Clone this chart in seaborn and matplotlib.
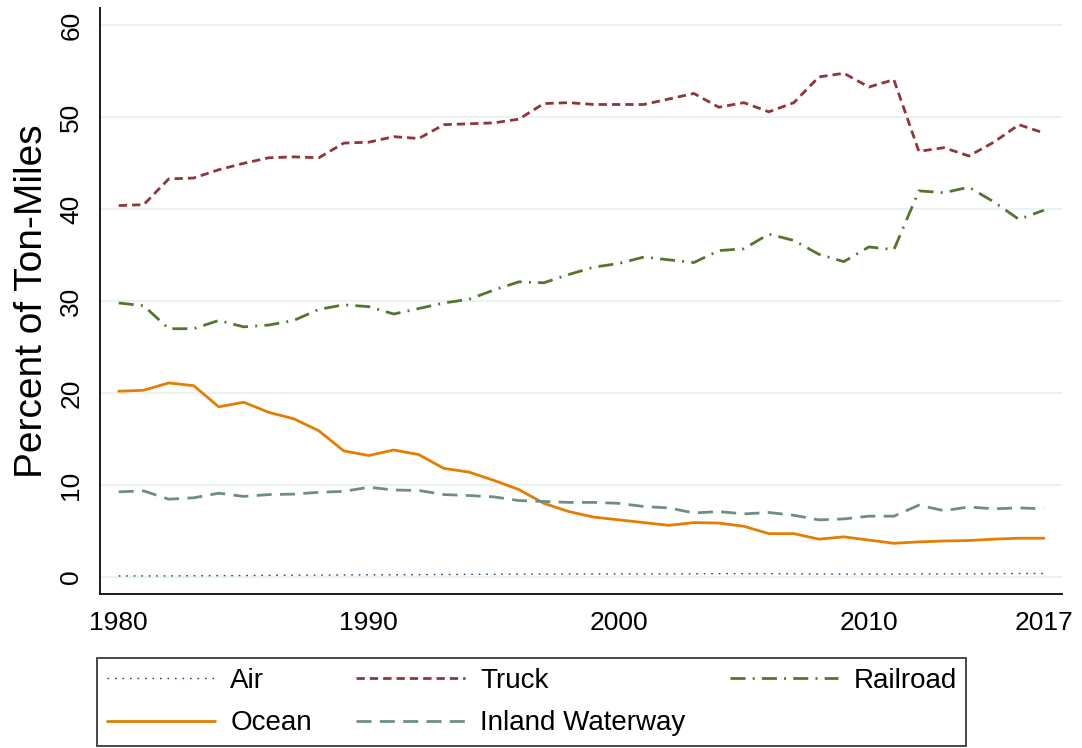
import numpy as np
import pandas as pd
import matplotlib
matplotlib.use('Agg')
import matplotlib.pyplot as plt
import seaborn as sns

years = list(range(1980, 2018))

air = [0.10, 0.10, 0.10, 0.12, 0.13, 0.14, 0.16, 0.18, 0.19, 0.20,
       0.22, 0.22, 0.24, 0.25, 0.27, 0.28, 0.29, 0.30, 0.30, 0.31,
       0.32, 0.31, 0.32, 0.33, 0.35, 0.34, 0.34, 0.33, 0.30, 0.29,
       0.30, 0.29, 0.31, 0.32, 0.33, 0.34, 0.36, 0.37]
truck = [40.4, 40.5, 43.3, 43.4, 44.3, 45.0, 45.6, 45.7, 45.6, 47.2,
         47.3, 47.9, 47.7, 49.2, 49.3, 49.4, 49.8, 51.5, 51.6, 51.4,
         51.4, 51.4, 52.0, 52.6, 51.1, 51.6, 50.6, 51.6, 54.4, 54.8,
         53.3, 54.1, 46.3, 46.7, 45.8, 47.3, 49.2, 48.3]
railroad = [29.8, 29.5, 27.0, 27.0, 27.9, 27.2, 27.4, 27.9, 29.1, 29.6,
            29.4, 28.6, 29.2, 29.8, 30.2, 31.2, 32.1, 32.0, 32.9, 33.7,
            34.1, 34.8, 34.5, 34.2, 35.5, 35.7, 37.3, 36.6, 35.1, 34.3,
            35.9, 35.6, 42.0, 41.8, 42.4, 40.8, 38.9, 39.9]
ocean = [20.2, 20.3, 21.1, 20.8, 18.5, 19.0, 17.9, 17.2, 15.9, 13.7,
         13.2, 13.8, 13.3, 11.8, 11.4, 10.5, 9.5, 8.0, 7.1, 6.5,
         6.2, 5.9, 5.6, 5.9, 5.85, 5.5, 4.7, 4.7, 4.1, 4.35,
         4.0, 3.65, 3.8, 3.9, 3.95, 4.1, 4.2, 4.2]
inland = [9.25, 9.35, 8.45, 8.6, 9.1, 8.75, 8.95, 9.0, 9.2, 9.3,
          9.75, 9.45, 9.4, 8.95, 8.85, 8.7, 8.3, 8.2, 8.1, 8.1,
          8.0, 7.65, 7.5, 6.95, 7.1, 6.85, 7.0, 6.7, 6.2, 6.3,
          6.6, 6.6, 7.8, 7.2, 7.6, 7.4, 7.5, 7.4]

modes = ['Air', 'Truck', 'Railroad', 'Ocean', 'Inland Waterway']
series = [air, truck, railroad, ocean, inland]

df = pd.DataFrame({
    'year': years * len(modes),
    'share': np.concatenate(series),
    'mode': np.repeat(modes, len(years)),
})

colors = {'Air': '#1a476f', 'Truck': '#90353b', 'Railroad': '#55752f',
          'Ocean': '#e37e00', 'Inland Waterway': '#6e8e84'}
styles = {'Air': (0, (1.2, 4.2)), 'Truck': (0, (3.0, 1.8)),
          'Railroad': (0, (5.4, 2.6, 0.7, 2.6)), 'Ocean': '-',
          'Inland Waterway': (0, (5.4, 3.0))}
widths = {'Air': 1.0, 'Truck': 2.0, 'Railroad': 2.0, 'Ocean': 2.0,
          'Inland Waterway': 2.0}

sns.set_style('white')
plt.rcParams['font.family'] = ['Liberation Sans', 'DejaVu Sans']
plt.rcParams['text.color'] = 'black'
plt.rcParams['axes.labelcolor'] = 'black'
plt.rcParams['xtick.color'] = 'black'
plt.rcParams['ytick.color'] = 'black'

fig = plt.figure(figsize=(10.82, 7.48), dpi=100)
ax = fig.add_axes([0.0924, 0.2055, 0.9812 - 0.0924, 0.9893 - 0.2055])

for m in modes:
    sns.lineplot(data=df[df['mode'] == m], x='year', y='share', ax=ax,
                 color=colors[m], linestyle=styles[m], lw=widths[m],
                 label=m, legend=False)

ax.set_xlim(1979.25, 2017.71)
ax.set_ylim(-1.9, 61.9)
ax.set_xticks([1980, 1990, 2000, 2010, 2017])
ax.set_yticks([0, 10, 20, 30, 40, 50, 60])
ax.yaxis.grid(True, color='#eaf2f3', lw=1.6)
ax.xaxis.grid(False)
ax.set_axisbelow(True)
for s in ['top', 'right']:
    ax.spines[s].set_visible(False)
for s in ['left', 'bottom']:
    ax.spines[s].set_color('#1a1a1a')
    ax.spines[s].set_linewidth(1.4)
ax.tick_params(axis='both', which='major', direction='out', length=7,
               width=1.3, color='#1a1a1a', labelsize=19, pad=5)
ax.tick_params(axis='y', labelrotation=90)
for t in ax.get_yticklabels():
    t.set_va('center')
ax.set_xlabel('')
ax.set_ylabel('Percent of Ton-Miles', fontsize=28, labelpad=7)

handles, labels = ax.get_legend_handles_labels()
lookup = dict(zip(labels, handles))
order = ['Air', 'Ocean', 'Truck', 'Inland Waterway', 'Railroad']
leg = fig.legend([lookup[k] for k in order], order, loc='upper left',
                 bbox_to_anchor=(97 / 1082, 90 / 748), ncol=3, fontsize=20,
                 frameon=True, fancybox=False, edgecolor='#1a1a1a',
                 handlelength=3.9, handletextpad=0.55, columnspacing=1.6,
                 borderpad=0.35, labelspacing=0.6, borderaxespad=0)
leg.get_frame().set_linewidth(1.4)

fig.savefig('out.png', dpi=100)
